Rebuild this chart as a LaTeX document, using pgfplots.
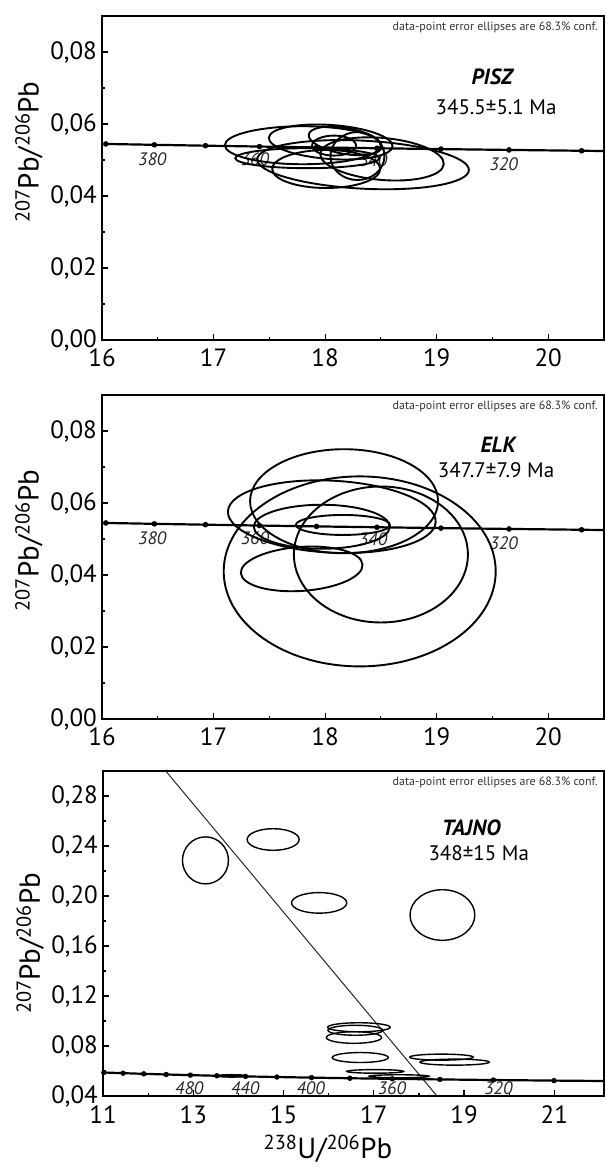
\documentclass[border=0pt]{standalone}
\usepackage{fontspec}
\setmainfont{PT Sans}
\usepackage{pgfplots}
\pgfplotsset{compat=1.18}
\usepackage{pgfplotstable}

\pgfdeclareplotmark{ell}{%
  \pgfsetlinewidth{1.9pt}%
  \pgfmathsetmacro\ellangb{\ellang+90}%
  \pgfpathellipse{\pgfpointorigin}{\pgfpointpolar{\ellang}{\ella pt}}{\pgfpointpolar{\ellangb}{\ellb pt}}%
  \pgfusepathqstroke}
\pgfdeclareplotmark{ellthin}{%
  \pgfsetlinewidth{1.4pt}%
  \pgfmathsetmacro\ellangb{\ellang+90}%
  \pgfpathellipse{\pgfpointorigin}{\pgfpointpolar{\ellang}{\ella pt}}{\pgfpointpolar{\ellangb}{\ellb pt}}%
  \pgfusepathqstroke}

% concordia, ages 390..300 Ma
\pgfplotstableread{
x y
16.0343 0.054457
16.4692 0.054215
16.9275 0.053975
17.4114 0.053736
17.9228 0.053499
18.4645 0.053263
19.0388 0.053028
19.6492 0.052795
20.2989 0.052564
20.9919 0.052333
}\concA

% concordia, ages 560..280 Ma
\pgfplotstableread{
x y
11.019 0.058808
11.445 0.058272
11.904 0.057742
12.399 0.057219
12.936 0.056703
13.520 0.056193
14.157 0.055690
14.854 0.055192
15.621 0.054701
16.469 0.054215
17.411 0.053736
18.465 0.053263
19.649 0.052795
20.992 0.052333
22.527 0.051877
}\concB

% ellipses: centre x y, semi-axes a b (pt), angle
\pgfplotstableread{
x y a b ang
17.80 0.0541 78 19 0
18.05 0.0550 62 17 -4
18.18 0.0553 37 13 -10
18.08 0.0540 22 10 0
18.34 0.0487 106 24 -3
18.01 0.0475 54 19 0
18.51 0.0503 62 21 -5
17.84 0.0505 72 10 0
18.29 0.0511 27 24 0
}\ellPISZ

\pgfplotstableread{
x y a b ang
18.17 0.0605 94 52 0
18.31 0.0410 136 95 0
18.50 0.0457 87 68 0
18.06 0.0562 104 36 -3
17.97 0.0534 68 22 0
18.16 0.0539 47 10 0
17.79 0.0417 61 22 4
}\ellELK

\pgfplotstableread{
x y a b ang
13.27 0.2285 23 23.5 0
14.77 0.2452 26 10.8 0
15.79 0.1945 27.6 10.3 0
18.52 0.1848 32.4 25.3 0
16.67 0.0950 31.3 4.5 0
16.59 0.0926 27.4 5 0
16.56 0.0868 27.6 5.8 0
16.70 0.0708 28 5 0
18.50 0.0711 31.8 3 0
18.79 0.0671 34.7 3 0
17.03 0.0597 28.4 1.8 0
17.56 0.0558 30 1.5 0
13.85 0.0561 15 1.2 0
}\ellTAJNO

\newcommand\tfont{\fontsize{25}{30}\selectfont}
\newcommand\lfont{\fontsize{29}{34}\selectfont}

\pgfplotsset{
  panel/.style={
    scale only axis,
    axis line style={line width=2pt},
    tick pos=left,
    tick style={black, line width=1.2pt},
    major tick length=6pt, minor tick length=3pt,
    scaled y ticks=false, scaled x ticks=false,
    /pgf/number format/assume math mode=true,
    ticklabel style={font=\tfont},
    xticklabel style={inner sep=0pt, yshift=-9pt},
    yticklabel style={inner sep=0pt, xshift=-5pt,
      /pgf/number format/fixed, /pgf/number format/fixed zerofill,
      /pgf/number format/precision=2, /pgf/number format/use comma},
    minor x tick num=1, minor y tick num=1,
    label style={font=\lfont},
    ylabel={\textsuperscript{207}Pb/\textsuperscript{206}Pb},
  },
  ellipses/.style={
    scatter, only marks, mark=ell, black,
    scatter/@pre marker code/.code={},
    scatter/@post marker code/.code={},
    visualization depends on={\thisrow{a}\as\ella},
    visualization depends on={\thisrow{b}\as\ellb},
    visualization depends on={\thisrow{ang}\as\ellang},
  },
  conc/.style={black, line width=2.2pt, mark=*, mark size=2.5pt, mark options={line width=0.5pt}},
}
\tikzset{
  agelbl/.style={font=\fontsize{18}{22}\selectfont\itshape, text=black!85, anchor=center},
  note/.style={font=\fontsize{12}{14}\selectfont, text=black!80, anchor=east, inner sep=0pt},
  name/.style={font=\fontsize{22}{26}\selectfont\bfseries\itshape, anchor=center},
  age/.style={font=\fontsize{21}{25}\selectfont, anchor=center},
}

\begin{document}
\begin{tikzpicture}
\path[use as bounding box] (0,0) rectangle (605pt,-1167pt);

% ---------- PISZ ----------
\begin{axis}[panel, at={(102pt,-16pt)}, anchor=north west,
  width=502pt, height=324pt,
  xmin=16, xmax=20.5, ymin=0, ymax=0.09,
  xtick={16,17,18,19,20}, ytick={0,0.02,0.04,0.06,0.08},
  ylabel style={at={(axis description cs:-0.1454,0.58)}, anchor=center}]
\addplot[conc] table {\concA};
\addplot[ellipses] table {\ellPISZ};
\node[agelbl] at (axis cs:16.45,0.0503) {380};
\node[agelbl] at (axis cs:17.37,0.0503) {360};
\node[agelbl] at (axis cs:18.43,0.0500) {340};
\node[agelbl] at (axis cs:19.60,0.0489) {320};
\node[note] at (axis description cs:0.988,0.966) {data-point error ellipses are 68.3\% conf.};
\node[name] at (axis description cs:0.777,0.812) {PISZ};
\node[age] at (axis description cs:0.785,0.719) {345.5±5.1 Ma};
\end{axis}

% ---------- ELK ----------
\begin{axis}[panel, at={(102pt,-395pt)}, anchor=north west,
  width=502pt, height=324pt,
  xmin=16, xmax=20.5, ymin=0, ymax=0.09,
  xtick={16,17,18,19,20}, ytick={0,0.02,0.04,0.06,0.08},
  ylabel style={at={(axis description cs:-0.1454,0.55)}, anchor=center}]
\addplot[conc] table {\concA};
\addplot[ellipses] table {\ellELK};
\node[agelbl] at (axis cs:16.45,0.0503) {380};
\node[agelbl] at (axis cs:17.37,0.0503) {360};
\node[agelbl] at (axis cs:18.43,0.0500) {340};
\node[agelbl] at (axis cs:19.60,0.0489) {320};
\node[note] at (axis description cs:0.988,0.966) {data-point error ellipses are 68.3\% conf.};
\node[name] at (axis description cs:0.789,0.846) {ELK};
\node[age] at (axis description cs:0.785,0.769) {347.7±7.9 Ma};
\end{axis}

% ---------- TAJNO ----------
\begin{axis}[panel, at={(103pt,-771pt)}, anchor=north west,
  width=501pt, height=325pt,
  xmin=11, xmax=22.1, ymin=0.04, ymax=0.30,
  xtick={11,13,15,17,19,21}, ytick={0.04,0.08,0.12,0.16,0.20,0.24,0.28},
  ylabel style={at={(axis description cs:-0.1454,0.47)}, anchor=center},
  xlabel={\textsuperscript{238}U/\textsuperscript{206}Pb},
  xlabel style={at={(axis description cs:0.449,-0.163)}, anchor=center}]
\addplot[black!85, line width=1pt] coordinates {(12.39,0.30) (18.40,0.04)};
\addplot[conc, mark size=2.4pt] table {\concB};
\addplot[ellipses, mark=ellthin] table {\ellTAJNO};
\node[agelbl] at (axis cs:12.91,0.0464) {480};
\node[agelbl] at (axis cs:14.15,0.0464) {440};
\node[agelbl] at (axis cs:15.60,0.0464) {400};
\node[agelbl] at (axis cs:17.40,0.0464) {360};
\node[agelbl] at (axis cs:19.76,0.0464) {320};
\node[note] at (axis description cs:0.988,0.966) {data-point error ellipses are 68.3\% conf.};
\node[name] at (axis description cs:0.735,0.825) {TAJNO};
\node[age] at (axis description cs:0.75,0.748) {348±15 Ma};
\end{axis}
\end{tikzpicture}
\end{document}
